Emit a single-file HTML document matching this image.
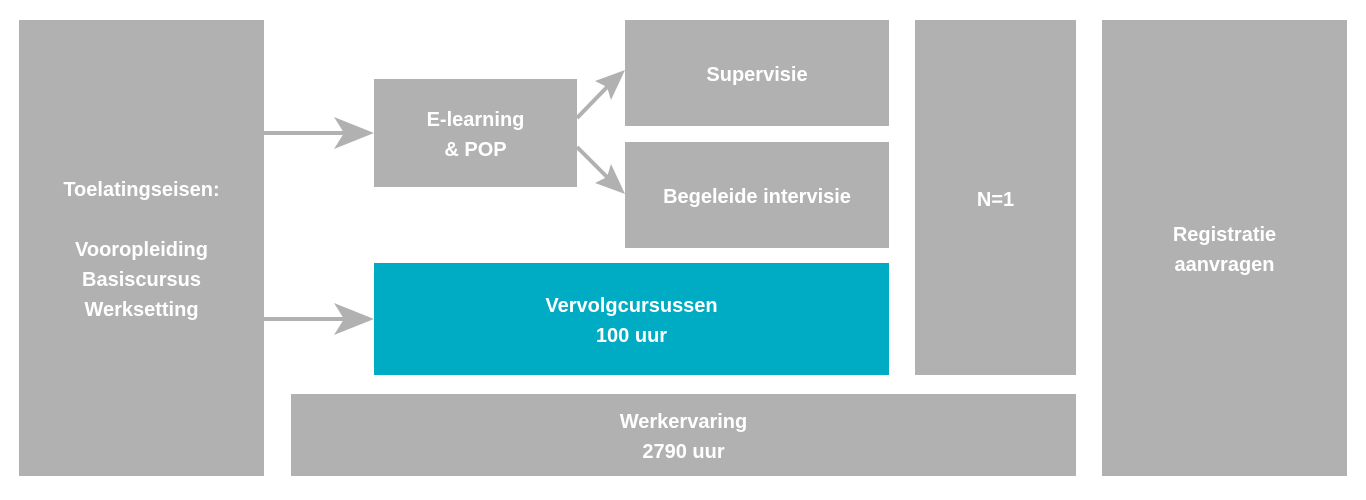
<!DOCTYPE html>
<html><head><style>
body{margin:0;width:1366px;height:500px;background:#fff;position:relative;font-family:"Liberation Sans",sans-serif;overflow:hidden}
.b{position:absolute;background:#b1b1b1;color:#fff;font-weight:bold;font-size:20px;line-height:30px;display:flex;align-items:center;justify-content:center;text-align:center;padding-top:4px;box-sizing:border-box}
.t{background:#00abc4}
svg{position:absolute;left:0;top:0}
</style></head><body>
<div class="b" style="left:19px;top:20px;width:245px;height:456px">Toelatingseisen:<br><br>Vooropleiding<br>Basiscursus<br>Werksetting</div>
<div class="b" style="left:374px;top:79px;width:203px;height:108px">E-learning<br>&amp; POP</div>
<div class="b" style="left:625px;top:20px;width:264px;height:106px">Supervisie</div>
<div class="b" style="left:625px;top:142px;width:264px;height:106px">Begeleide intervisie</div>
<div class="b t" style="left:374px;top:263px;width:515px;height:112px">Vervolgcursussen<br>100 uur</div>
<div class="b" style="left:915px;top:20px;width:161px;height:355px">N=1</div>
<div class="b" style="left:291px;top:394px;width:785px;height:82px">Werkervaring<br>2790 uur</div>
<div class="b" style="left:1102px;top:20px;width:245px;height:456px">Registratie<br>aanvragen</div>
<svg width="1366" height="500">
<g stroke="#b1b1b1" stroke-width="4" fill="none">
<line x1="264" y1="133" x2="350" y2="133"/>
<line x1="264" y1="319" x2="350" y2="319"/>
<line x1="577" y1="118" x2="610" y2="84"/>
<line x1="577" y1="147" x2="610" y2="180"/>
</g>
<g fill="#b1b1b1">
<path d="M374,133 L334,117 L344,133 L334,149 Z"/>
<path d="M374,319 L334,303 L344,319 L334,335 Z"/>
<path d="M625,70 L595,81 L607,87 L611,100 Z"/>
<path d="M625,194 L611,164 L607,177 L595,183 Z"/>
</g>
</svg>
</body></html>
